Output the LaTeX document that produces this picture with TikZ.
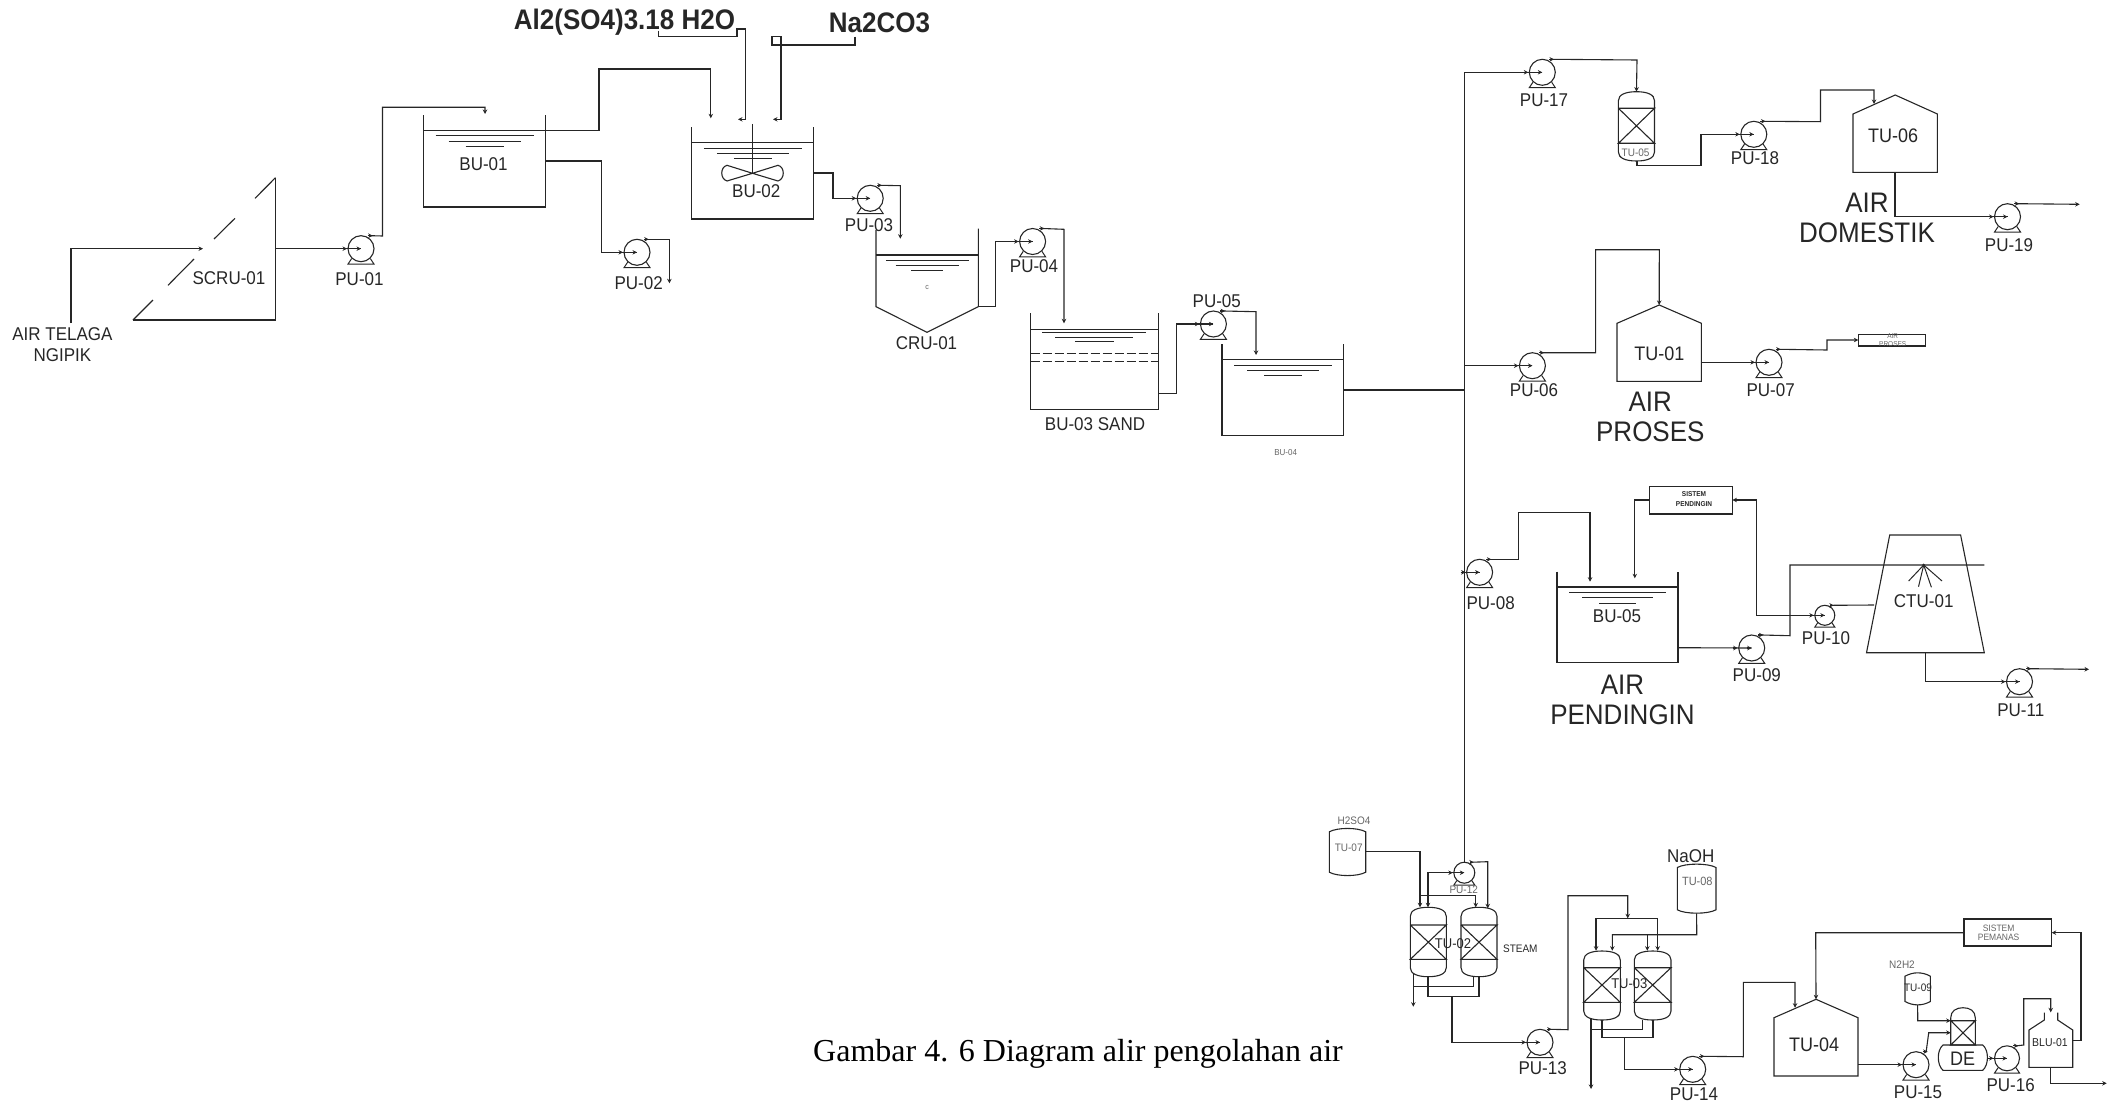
\documentclass[tikz,border=0pt]{standalone}
\usepackage{fontspec}
\setmainfont[FakeStretch=0.92,Scale=1.087]{Liberation Sans}
\newfontfamily\capfont{Liberation Serif}
\usetikzlibrary{arrows.meta}
\definecolor{ink}{HTML}{262626}
\definecolor{faint}{HTML}{666666}
\tikzset{
  pipe/.style={draw=ink,line width=1.1pt,line join=miter},
  feed/.style={pipe,-{Stealth[length=4.5pt,width=4.5pt]}},
  wall/.style={draw=ink,line width=1.1pt},
  thinwall/.style={draw=ink,line width=1pt},
  pumpbody/.style={circle,draw=ink,line width=1.1pt,inner sep=0pt},
  lab/.style={font=\fontsize{17}{17}\selectfont,text=ink,inner sep=0pt,align=center,yshift=-0.7pt},
  biglab/.style={font=\fontsize{26}{30.5}\selectfont,text=ink,inner sep=0pt,align=center,yshift=-0.7pt},
  boldlab/.style={font=\fontsize{26}{30}\selectfont\bfseries,text=ink,inner sep=0pt},
  taglab/.style={font=\fontsize{18}{18}\selectfont,text=ink,inner sep=0pt,yshift=-0.7pt},
  smalllab/.style={font=\fontsize{10}{10}\selectfont,text=faint,inner sep=0pt,align=center},
  tinylab/.style={font=\fontsize{6.5}{8.8}\selectfont,text=faint,inner sep=0pt,align=center},
  caption/.style={font=\capfont\fontsize{32}{32}\selectfont,text=black,inner sep=0pt},
}
% pump: name, x, y, diameter
\newcommand\pump[4]{%
  \begin{scope}[shift={(#2,#3)}]
    \node[pumpbody,minimum size=#4pt] (#1) at (0,0) {};
    \coordinate (#1-o) at ({#4*0.39},{-#4/2});
    \draw[thinwall] ({-#4*0.36},{#4*0.38}) -- ({-#4*0.5},{#4*0.59}) -- ({#4*0.5},{#4*0.59}) -- ({#4*0.36},{#4*0.38});
    \draw[feed] ({-#4/2-6},0) -- ({-#4/2-1},0);
    \draw[feed] (-5,0) -- (0,0);
    \draw[feed] ({#4*0.25},{-#4/2}) -- ({#4*0.45},{-#4/2});
  \end{scope}}
% open tank: name, left, right, top, liquid, bottom
\newcommand\tank[6]{%
  \draw[wall] (#2,#4) -- (#2,#6) -- (#3,#6) -- (#3,#4);
  \draw[wall] (#2,#5) -- (#3,#5);
  \coordinate (#1) at ({(#2+#3)/2},#5);
  \draw[thinwall] ({#2+12},{#5+5.3}) -- ({#3-12},{#5+5.3});
  \draw[thinwall] ({#2+25},{#5+10.6}) -- ({#3-25},{#5+10.6});
  \draw[thinwall] ({#2+42},{#5+16}) -- ({#3-42},{#5+16});}
% packed column: name, left, right, top, bed top, bed bottom, bottom
\newcommand\column[7]{%
  \draw[wall] (#2,{#7-9}) -- (#2,{#4+9}) .. controls (#2,{#4+3}) and ({#2+7},#4) .. ({(#2+#3)/2},#4)
    .. controls ({#3-7},#4) and (#3,{#4+3}) .. (#3,{#4+9}) -- (#3,{#7-9})
    .. controls (#3,{#7-3}) and ({#3-7},#7) .. ({(#2+#3)/2},#7)
    .. controls ({#2+7},#7) and (#2,{#7-3}) .. (#2,{#7-9}) -- cycle;
  \draw[wall] (#2,#5) -- (#3,#5) -- (#2,#6) -- (#3,#6) -- (#2,#5);
  \coordinate (#1) at ({(#2+#3)/2},#4);}
% storage drum: name, left, right, top, bottom
\newcommand\drum[5]{%
  \draw[wall] (#2,{#4+3.5}) .. controls ({#2+8},{#4-1}) and ({#3-8},{#4-1}) .. (#3,{#4+3.5})
    -- (#3,{#5-3.5}) .. controls ({#3-8},{#5+1}) and ({#2+8},{#5+1}) .. (#2,{#5-3.5}) -- cycle;
  \coordinate (#1) at ({(#2+#3)/2},#5);}
% peaked tank: name, left, right, apex, shoulder, bottom
\newcommand\peak[6]{%
  \draw[wall] (#2,#5) -- ({(#2+#3)/2},#4) -- (#3,#5) -- (#3,#6) -- (#2,#6) -- cycle;
  \coordinate (#1) at ({(#2+#3)/2},#4);}
\begin{document}
\begin{tikzpicture}[x=1pt,y=-1pt]
\useasboundingbox (0,0) rectangle (2114,1105);

%% ---------- screen and first section
\draw[wall] (133,320) -- (275.5,320) -- (275.5,177.7);
\draw[wall] (133,320) -- (153,300);
\draw[wall] (168,285.3) -- (194,259);
\draw[wall] (214,239) -- (235,218.3);
\draw[wall] (255,198.3) -- (275.5,177.7);
\coordinate (source) at (71,323);
\coordinate (scru-in) at (203,248.7);
\coordinate (scru-out) at (275.5,248.7);
\node[lab] (scru) at (229,277) {SCRU-01};
\node[lab,font=\fontsize{17}{21}\selectfont] (telaga) at (62.4,343.8) {AIR TELAGA\\NGIPIK};
\draw[feed] (source) -- (71,248.7) -- (scru-in);

\pump{pu01}{361}{248.7}{26}
\node[lab] (pu01l) at (359.5,278.7) {PU-01};
\draw[pipe] (scru-out) -- (pu01.center);

\tank{bu01}{423.5}{545.5}{115.3}{130.7}{207}
\node[lab] (bu01l) at (483.5,163.7) {BU-01};
\coordinate (bu01-in) at (485,114);
\coordinate (bu01-o1) at (545.5,130.7);
\coordinate (bu01-o2) at (545.5,161);
\draw[feed] (pu01-o) -- (382.5,236) -- (382.5,107.3) -- (485,107.3) -- (bu01-in);

\pump{pu02}{637}{252.3}{26}
\node[lab] (pu02l) at (638.7,282.3) {PU-02};
\coordinate (pu02-end) at (669.4,283.3);
\draw[pipe] (bu01-o2) -- (601.5,161) -- (601.5,252.3) -- (pu02.center);
\draw[feed] (pu02-o) -- (669.4,239.3) -- (pu02-end);

%% ---------- coagulation
\tank{bu02}{691.9}{813.5}{127.3}{142.7}{219}
\coordinate (shaft) at (752.5,173.3);
\draw[wall] (752.5,124) -- (shaft);
\draw[wall] (shaft) -- (727,165.3) .. controls (720,167) and (720,179) .. (727,181) -- cycle;
\draw[wall] (shaft) -- (778,165.3) .. controls (785,167) and (785,179) .. (778,181) -- cycle;
\node[lab] (bu02l) at (756.3,190.3) {BU-02};
\coordinate (bu02-in) at (710.8,118.3);
\coordinate (bu02-o) at (813.5,173);
\draw[feed] (bu01-o1) -- (599,130.7) -- (599,69) -- (710.8,69) -- (bu02-in);

\node[boldlab] (alum) at (624.5,22.5) {Al2(SO4)3.18 H2O};
\node[boldlab] (soda) at (879.5,22.5) {Na2CO3};
\coordinate (alum-s) at (658.4,30.7);
\coordinate (soda-s) at (855,36.7);
\coordinate (alum-e) at (738,119.3);
\coordinate (soda-e) at (773,119.3);
\draw[feed] (alum-s) -- (658.4,36.7) -- (737,36.7) -- (737,29) -- (745.7,29) -- (745.7,119.3) -- (alum-e);
\draw[feed] (soda-s) -- (855,45) -- (772,45) -- (772,36.7) -- (781,36.7) -- (781,119.3) -- (soda-e);

\pump{pu03}{870.2}{198.3}{26}
\draw[pipe] (bu02-o) -- (833,173) -- (833,198.3) -- (pu03.center);

%% ---------- clarifier
\draw[wall] (876,230) -- (876,306.7) -- (927,332.3) -- (978.3,306.7) -- (978.3,228.7);
\draw[wall] (876,255) -- (978.3,255);
\draw[thinwall] (885.8,260.3) -- (968.6,260.3);
\draw[thinwall] (895.5,265.3) -- (959,265.3);
\draw[thinwall] (911.4,270.7) -- (943,270.7);
\node[font=\fontsize{7}{7}\selectfont,text=faint,inner sep=0pt] (cmark) at (927,287.3) {c};
\node[lab] (pu03l) at (869,224.7) {PU-03};
\node[lab] (cru01l) at (926.5,342.3) {CRU-01};
\coordinate (cru-in) at (900.3,238.7);
\coordinate (cru-o) at (978.3,306.3);
\draw[feed] (pu03-o) -- (900.3,185.7) -- (cru-in);

\pump{pu04}{1032.6}{241.5}{26}
\node[lab] (pu04l) at (1034,265.7) {PU-04};
\draw[pipe] (cru-o) -- (995.3,306.3) -- (995.3,241.5) -- (pu04.center);

%% ---------- sand filter
\draw[wall] (1030.7,313.3) -- (1030.7,409.3) -- (1158.2,409.3) -- (1158.2,313.3);
\draw[wall] (1030.7,329.3) -- (1158.2,329.3);
\draw[thinwall] (1042,332.7) -- (1145.6,332.7);
\draw[thinwall] (1055.4,337) -- (1133,337);
\draw[thinwall] (1074.8,341) -- (1113.6,341);
\draw[thinwall,dash pattern=on 9pt off 3pt] (1030.7,353.3) -- (1158.2,353.3);
\draw[thinwall,dash pattern=on 9pt off 3pt] (1030.7,361.3) -- (1158.2,361.3);
\node[lab] (bu03l) at (1095,423.7) {BU-03 SAND};
\coordinate (bu03-in) at (1064,323.3);
\coordinate (bu03-o) at (1158.2,393.3);
\draw[feed] (pu04-o) -- (1064,229.3) -- (bu03-in);

\pump{pu05}{1213.4}{324}{26}
\node[lab] (pu05l) at (1216.8,300.7) {PU-05};
\draw[pipe] (bu03-o) -- (1176.6,393.3) -- (1176.6,324) -- (pu05.center);

\tank{bu04}{1222}{1343.8}{344.3}{359.7}{435.3}
\node[font=\fontsize{8}{8}\selectfont,text=faint,inner sep=0pt] (bu04l) at (1285.7,452.3) {BU-04};
\coordinate (bu04-in) at (1256,355);
\coordinate (bu04-o) at (1343.8,390);
\draw[feed] (pu05-o) -- (1256,311.7) -- (bu04-in);

%% ---------- header
\coordinate (hdr) at (1464.5,390);
\coordinate (hdr-17) at (1464.5,72.3);
\coordinate (hdr-06) at (1464.5,365.7);
\coordinate (hdr-08) at (1464.5,572.3);
\coordinate (hdr-12) at (1464.5,861.7);
\draw[pipe] (bu04-o) -- (hdr);
\draw[pipe] (hdr-17) -- (hdr-12);

%% ---------- domestic water
\pump{pu17}{1542.3}{72.3}{26}
\node[lab] (pu17l) at (1544,100) {PU-17};
\draw[pipe] (hdr-17) -- (pu17.center);
\column{tu05}{1618.4}{1654.5}{91.7}{108.3}{143.3}{161}
\node[smalllab] (tu05l) at (1635.6,152.3) {TU-05};
\draw[feed] (pu17-o) -- (1637,60) -- (tu05);
\coordinate (tu05-o) at (1637,161);
\pump{pu18}{1753.8}{134.3}{26}
\node[lab] (pu18l) at (1755,157.7) {PU-18};
\draw[pipe] (tu05-o) -- (1637,165.7) -- (1701,165.7) -- (1701,134.3) -- (pu18.center);
\peak{tu06}{1853}{1937.4}{95}{114}{172.3}
\node[taglab] (tu06l) at (1893,135.3) {TU-06};
\coordinate (tu06-in) at (1874,104);
\coordinate (tu06-o) at (1895,172.3);
\draw[feed] (pu18-o) -- (1820.5,121.7) -- (1820.5,90) -- (1874,90) -- (tu06-in);
\pump{pu19}{2007.5}{216.7}{26}
\node[lab] (pu19l) at (2009,244.7) {PU-19};
\coordinate (dom-end) at (2079.7,204.3);
\draw[pipe] (tu06-o) -- (1895,216.7) -- (pu19.center);
\draw[feed] (pu19-o) -- (dom-end);
\node[biglab] (domestik) at (1867,217) {AIR\\DOMESTIK};

%% ---------- process water
\pump{pu06}{1532.4}{365.7}{26}
\node[lab] (pu06l) at (1534,389.7) {PU-06};
\draw[pipe] (hdr-06) -- (pu06.center);
\peak{tu01}{1617}{1701.4}{305}{323.3}{381.3}
\node[taglab] (tu01l) at (1659.3,352.7) {TU-01};
\draw[feed] (pu06-o) -- (1595.6,352.7) -- (1595.6,249.7) -- (1659.3,249.7) -- (tu01);
\coordinate (tu01-o) at (1701.4,362.3);
\pump{pu07}{1769}{362.3}{26}
\node[lab] (pu07l) at (1770.6,389.7) {PU-07};
\draw[pipe] (tu01-o) -- (pu07.center);
\node[biglab] (proses) at (1650.3,416) {AIR\\PROSES};
\draw[wall] (1858.3,334.3) rectangle (1925.8,346);
\coordinate (apbox) at (1858.3,340);
\node[tinylab,font=\fontsize{6.5}{8.3}\selectfont] (apboxl) at (1892.7,340.2) {AIR\\PROSES};
\draw[feed] (pu07-o) -- (1827,350) -- (1827,340) -- (apbox);

%% ---------- cooling water
\pump{pu08}{1479.6}{572.3}{26}
\node[lab] (pu08l) at (1490.7,602.3) {PU-08};
\draw[pipe] (hdr-08) -- (pu08.center);
\tank{bu05}{1557}{1678}{571.7}{587}{662.7}
\node[lab] (bu05l) at (1617,615.3) {BU-05};
\coordinate (bu05-in1) at (1590,581.7);
\coordinate (bu05-in2) at (1634.8,578.3);
\coordinate (bu05-o) at (1678,647.7);
\draw[feed] (pu08-o) -- (1518.7,559.3) -- (1518.7,512.3) -- (1590,512.3) -- (bu05-in1);
\node[biglab] (pendingin) at (1622.5,699) {AIR\\PENDINGIN};
\draw[wall] (1649.4,486.7) rectangle (1732.4,514);
\coordinate (sp-l) at (1649.4,500);
\coordinate (sp-r) at (1732.4,500);
\node[tinylab,font=\fontsize{6.5}{9.7}\selectfont\bfseries,text=ink] (spl) at (1694,499) {SISTEM\\PENDINGIN};
\draw[feed] (sp-l) -- (1634.8,500) -- (bu05-in2);
\pump{pu09}{1751.7}{648}{26}
\node[lab] (pu09l) at (1756.8,674.3) {PU-09};
\draw[pipe] (bu05-o) -- (pu09.center);
\coordinate (ctu-line) at (1984.3,565);
\draw[pipe] (pu09-o) -- (1790,635.7) -- (1790,565) -- (ctu-line);
\draw[wall] (1889.7,535) -- (1960.6,535) -- (1984.3,652.7) -- (1866.5,652.7) -- cycle;
\node[lab] (ctu01l) at (1923.7,600.7) {CTU-01};
\coordinate (spray) at (1923.7,565);
\fill[ink] (spray) circle (1.5pt);
\draw[thinwall] (spray) -- (1908.6,581);
\draw[thinwall] (spray) -- (1918.5,586.7);
\draw[thinwall] (spray) -- (1931.4,587.3);
\draw[thinwall] (spray) -- (1942,581);
\pump{pu10}{1824.8}{615.3}{20}
\node[lab] (pu10l) at (1826,637) {PU-10};
\coordinate (ctu-side) at (1874,605);
\draw[pipe] (ctu-side) -- (pu10-o);
\draw[feed] (pu10.center) -- (1756.8,615.3) -- (1756.8,500) -- (sp-r);
\coordinate (ctu-o) at (1925.4,652.7);
\pump{pu11}{2019.5}{681.7}{26}
\node[lab] (pu11l) at (2020.8,710) {PU-11};
\coordinate (cool-end) at (2089,669.3);
\draw[pipe] (ctu-o) -- (1925.4,681.7) -- (pu11.center);
\draw[feed] (pu11-o) -- (cool-end);

%% ---------- demineralisation 1
\node[smalllab] (h2so4) at (1354,820.3) {H2SO4};
\drum{tu07}{1329.3}{1365.7}{828.3}{875.7}
\node[smalllab] (tu07l) at (1348.7,847.7) {TU-07};
\coordinate (tu07-o) at (1365.7,851.3);
\column{tu02a}{1410.3}{1446.3}{907.3}{925}{959.3}{976.7}
\column{tu02b}{1461}{1497}{907.3}{925}{959.3}{976.7}
\node[font=\fontsize{13}{13}\selectfont,text=ink,inner sep=0pt] (tu02l) at (1453,943.7) {TU-02};
\node[smalllab,text=ink] (steam) at (1520.3,949) {STEAM};
\coordinate (tu02a-in1) at (1420,907.3);
\coordinate (tu02a-in2) at (1428,907.3);
\coordinate (tu02b-in1) at (1475.7,907.3);
\coordinate (tu02b-in2) at (1487.7,908.3);
\draw[feed] (tu07-o) -- (1420,851.3) -- (tu02a-in1);
\pump{pu12}{1464.3}{872.7}{21}
\node[smalllab] (pu12l) at (1463.7,889.7) {PU-12};
\draw[pipe] (hdr-12) -- (pu12.north);
\draw[feed] (pu12.center) -- (1428,872.7) -- (tu02a-in2);
\draw[feed] (pu12-o) -- (1487.7,861.7) -- (tu02b-in2);
\draw[feed] (1420,895.3) -- (1475.7,895.3) -- (tu02b-in1);
\coordinate (tu02a-o1) at (1413.3,974);
\coordinate (tu02a-o2) at (1428,976.7);
\coordinate (tu02b-o1) at (1473.7,976.7);
\coordinate (tu02b-o2) at (1479,976.7);
\coordinate (tu02-drain) at (1413.3,1006.7);
\draw[feed] (tu02a-o1) -- (tu02-drain);
\draw[pipe] (1413.3,986.3) -- (1473.7,986.3) -- (tu02b-o1);
\draw[pipe] (tu02a-o2) -- (1428,996.7) -- (1479,996.7) -- (tu02b-o2);
\pump{pu13}{1540}{1042.3}{26}
\node[lab] (pu13l) at (1542.7,1067.3) {PU-13};
\draw[pipe] (1452,996.7) -- (1452,1042.3) -- (pu13.center);

%% ---------- demineralisation 2
\node[lab] (naoh) at (1690.7,855.7) {NaOH};
\drum{tu08}{1677.3}{1716}{864}{913.3}
\node[font=\fontsize{11}{11}\selectfont,text=faint,inner sep=0pt] (tu08l) at (1697.3,881.7) {TU-08};
\column{tu03a}{1583.7}{1620.3}{951}{967.7}{1002.3}{1020}
\column{tu03b}{1634.3}{1671}{951}{967.7}{1002.3}{1020}
\node[font=\fontsize{13}{13}\selectfont,text=ink,inner sep=0pt] (tu03l) at (1629.3,983.7) {TU-03};
\coordinate (tu03a-in1) at (1596,950.7);
\coordinate (tu03a-in2) at (1612.3,950.7);
\coordinate (tu03b-in1) at (1647.3,950.7);
\coordinate (tu03b-in2) at (1657.7,950.7);
\coordinate (mani) at (1627.7,918.3);
\draw[feed] (pu13-o) -- (1568,1029.7) -- (1568,895.7) -- (1627.7,895.7) -- (mani);
\draw[feed] (mani) -- (1596,918.3) -- (tu03a-in1);
\draw[feed] (mani) -- (1657.7,918.3) -- (tu03b-in2);
\draw[feed] (tu08) -- (1696.7,934.7) -- (1612.3,934.7) -- (tu03a-in2);
\draw[feed] (1647.3,934.7) -- (tu03b-in1);
\coordinate (tu03a-o1) at (1591,1018.3);
\coordinate (tu03a-o2) at (1602,1020);
\coordinate (tu03b-o1) at (1642.3,1020);
\coordinate (tu03b-o2) at (1653,1020);
\coordinate (tu03-drain) at (1591,1089);
\draw[feed] (tu03a-o1) -- (tu03-drain);
\draw[pipe] (1591,1029.3) -- (1642.3,1029.3) -- (tu03b-o1);
\draw[pipe] (tu03a-o2) -- (1602,1037.7) -- (1653,1037.7) -- (tu03b-o2);
\pump{pu14}{1692.7}{1069.3}{26}
\node[lab] (pu14l) at (1694,1094) {PU-14};
\draw[pipe] (1624.3,1037.7) -- (1624.3,1069.3) -- (pu14.center);

%% ---------- steam section
\peak{tu04}{1774}{1858}{999.3}{1017.7}{1076}
\node[taglab] (tu04l) at (1814,1044.3) {TU-04};
\coordinate (tu04-in) at (1795,1007.7);
\coordinate (tu04-o) at (1858,1064.7);
\draw[feed] (pu14-o) -- (1743.3,1056.7) -- (1743.3,982.3) -- (1795,982.3) -- (tu04-in);
\draw[wall] (1964,919) rectangle (2051.7,946);
\coordinate (sh-l) at (1964,932.7);
\coordinate (sh-r) at (2051.7,932.7);
\node[font=\fontsize{8.5}{9}\selectfont,text=faint,inner sep=0pt,align=center] (shl) at (1998.6,932.5) {SISTEM\\PEMANAS};
\draw[feed] (sh-l) -- (1815.7,932.7) -- (tu04);
\pump{pu15}{1916}{1064.7}{26}
\node[lab] (pu15l) at (1918,1091.3) {PU-15};
\draw[pipe] (tu04-o) -- (pu15.center);
\node[smalllab,font=\fontsize{10}{10}\selectfont] (n2h2) at (1902,964.7) {N2H2};
\drum{tu09}{1905}{1930.3}{972.7}{1005}
\node[smalllab,text=ink] (tu09l) at (1918,987.7) {TU-09};
% deaerator
\draw[wall] (1950.7,1045) -- (1950.7,1018) .. controls (1950.7,1011) and (1956,1007.7) .. (1963,1007.7)
  .. controls (1970,1007.7) and (1975.3,1011) .. (1975.3,1018) -- (1975.3,1045);
\draw[wall] (1950.7,1020.7) -- (1975.3,1020.7) -- (1950.7,1045) -- (1975.3,1045) -- cycle;
\draw[wall] (1943,1045) -- (1982.7,1045) .. controls (1989,1050) and (1989,1065) .. (1982.7,1070.3)
  -- (1943,1070.3) .. controls (1936.7,1065) and (1936.7,1050) .. (1943,1045) -- cycle;
\node[taglab] (del) at (1962.7,1058.3) {DE};
\coordinate (de-in1) at (1950.7,1020.7);
\coordinate (de-in2) at (1950.7,1032.7);
\coordinate (de-o) at (1987.7,1058.3);
\draw[feed] (tu09) -- (1917.7,1020.7) -- (de-in1);
\draw[feed] (pu15-o) -- (1928.7,1032.7) -- (de-in2);
\pump{pu16}{2007}{1058.3}{25}
\node[lab] (pu16l) at (2010.7,1084.7) {PU-16};
\draw[pipe] (de-o) -- (pu16.center);
% blowdown unit
\draw[wall] (2044.3,1012.7) -- (2044.3,1020) -- (2029,1030) -- (2029,1067.3) -- (2072.7,1067.3)
  -- (2072.7,1030) -- (2057.7,1020) -- (2057.7,1012.7);
\node[font=\fontsize{10.5}{10.5}\selectfont,text=ink,inner sep=0pt] (blu01l) at (2050,1042.7) {BLU-01};
\coordinate (blu-in) at (2050.7,1012.3);
\coordinate (blu-o1) at (2072.7,1040.3);
\coordinate (blu-o2) at (2050.7,1067.3);
\coordinate (blu-end) at (2106.7,1083.3);
\draw[feed] (pu16-o) -- (2023.7,1045) -- (2023.7,998.7) -- (2050.7,998.7) -- (blu-in);
\draw[feed] (blu-o1) -- (2081,1040.3) -- (2081,932.7) -- (sh-r);
\draw[feed] (blu-o2) -- (2050.7,1083.3) -- (blu-end);

%% ---------- caption
\node[caption] (cap) at (1078,1053.5) {Gambar 4. 6 Diagram alir pengolahan air};
\end{tikzpicture}
\end{document}
